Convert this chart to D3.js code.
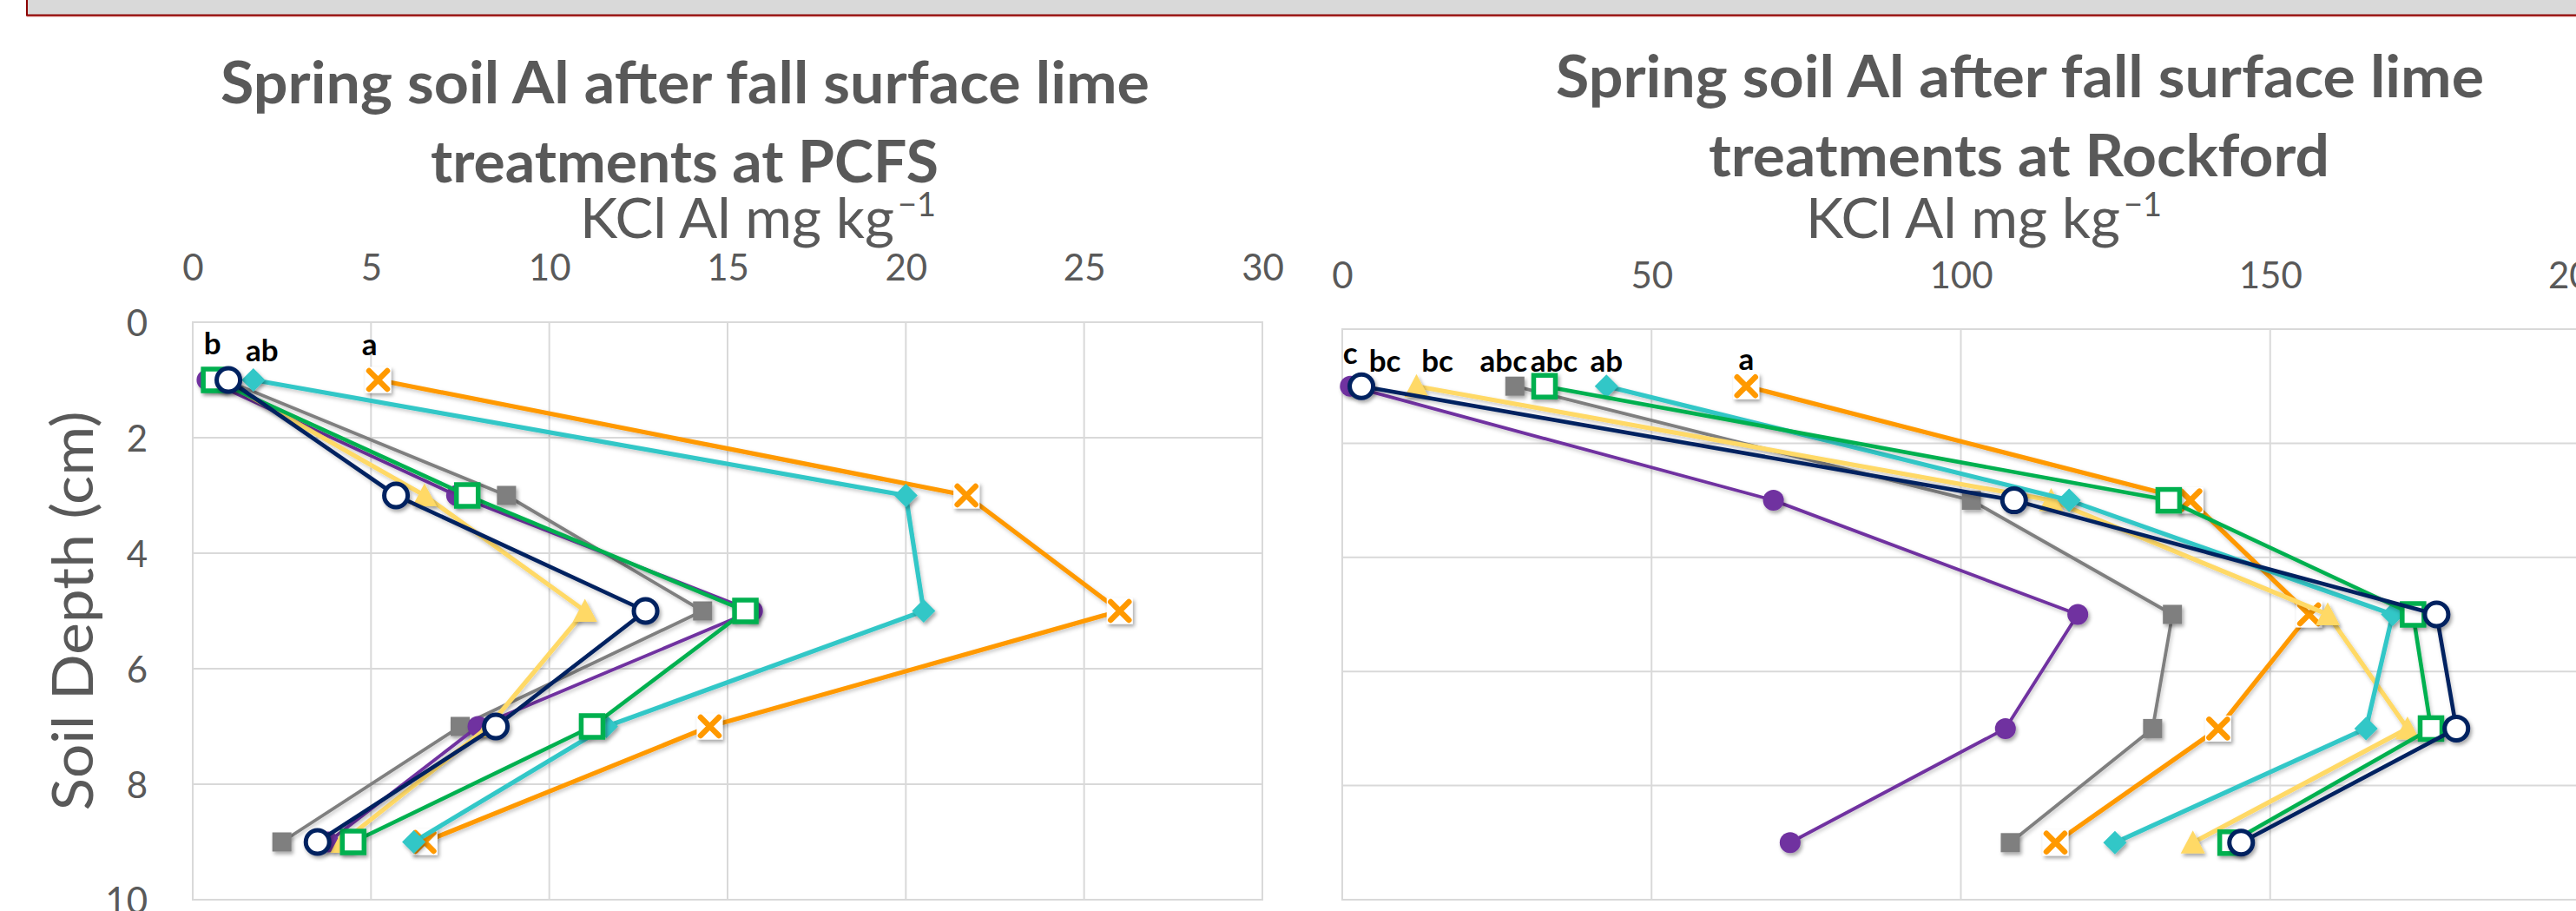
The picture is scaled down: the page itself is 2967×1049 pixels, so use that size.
<!DOCTYPE html>
<html>
<head>
<meta charset="utf-8">
<script src="https://cdn.jsdelivr.net/npm/d3@7"></script>
<style>
  html, body { margin: 0; padding: 0; background: #ffffff; }
  svg { display: block; }
</style>
</head>
<body>
<script>
// ---------------- DATA ----------------
const depths = [1, 3, 5, 7, 9];
const depthTicks = [0, 2, 4, 6, 8, 10];
const pcfsTicks = [0, 5, 10, 15, 20, 25, 30];
const rockTicks = [0, 50, 100, 150, 200];

const seriesOrder = ["gray", "purple", "orange", "yellow", "cyan", "green", "navy"];

// PCFS (KCl Al mg/kg) at depths 1,3,5,7,9 cm
const pcfsGray   = [0.9, 8.8, 14.3, 7.5, 2.5];
const pcfsPurple = [0.4, 7.4, 15.7, 8.0, 3.8];
const pcfsOrange = [5.2, 21.7, 26.0, 14.5, 6.5];
const pcfsYellow = [0.8, 6.5, 11.0, 8.3, 4.2];
const pcfsCyan   = [1.7, 20.0, 20.5, 11.6, 6.2];
const pcfsGreen  = [0.6, 7.7, 15.5, 11.2, 4.5];
const pcfsNavy   = [1.0, 5.7, 12.7, 8.5, 3.5];

// Rockford
const rockGray   = [27.9, 101.7, 134.2, 131.0, 108.0];
const rockPurple = [1.3, 69.7, 118.9, 107.2, 72.4];
const rockOrange = [65.3, 137.1, 156.3, 141.6, 115.3];
const rockYellow = [12.0, 114.6, 159.3, 172.2, 137.5];
const rockCyan   = [42.7, 117.5, 169.8, 165.5, 124.9];
const rockGreen  = [32.7, 133.6, 173.1, 176.0, 143.6];
const rockNavy   = [3.1, 108.6, 176.9, 180.1, 145.3];

// significance letters at the 1 cm depth
const pcfsLetterSeries = ["green", "cyan", "orange"];
const pcfsLetters      = ["b", "ab", "a"];
const rockLetterSeries = ["purple", "navy", "yellow", "gray", "green", "cyan", "orange"];
const rockLetters      = ["c", "bc", "bc", "abc", "abc", "ab", "a"];

const pcfsTitle = ["Spring soil Al after fall surface lime", "treatments at PCFS"];
const rockTitle = ["Spring soil Al after fall surface lime", "treatments at Rockford"];
const xTitle = "KCl Al mg kg";
const xTitleSup = "\u22121";
const yTitle = "Soil Depth (cm)";

// ---------------- STYLE / LAYOUT ----------------
const W = 2967, H = 1049;
const FONT = "Lato, 'Open Sans', sans-serif";
const style = {
  gray:   { color: "#7F7F7F", width: 3.8, marker: "square" },
  purple: { color: "#7030A0", width: 3.8, marker: "dot" },
  orange: { color: "#FF9900", width: 5.2, marker: "x" },
  yellow: { color: "#FFD966", width: 5.2, marker: "triangle" },
  cyan:   { color: "#33C7C7", width: 5.2, marker: "diamond" },
  green:  { color: "#00B050", width: 4.6, marker: "hsquare" },
  navy:   { color: "#002060", width: 4.6, marker: "hcircle" }
};
const textGray = "#595959";
const gridColor = "#D9D9D9";

const svg = d3.select("body").append("svg")
  .attr("width", W).attr("height", H)
  .attr("viewBox", `0 0 ${W} ${H}`);

const defs = svg.append("defs");
const f = defs.append("filter").attr("id", "sh")
  .attr("x", "-50%").attr("y", "-50%").attr("width", "200%").attr("height", "200%");
f.append("feDropShadow").attr("dx", 2).attr("dy", 3).attr("stdDeviation", 2.2)
  .attr("flood-color", "#000").attr("flood-opacity", 0.35);
const fl = defs.append("filter").attr("id", "shl")
  .attr("x", "-10%").attr("y", "-10%").attr("width", "120%").attr("height", "120%");
fl.append("feDropShadow").attr("dx", 1.5).attr("dy", 2.5).attr("stdDeviation", 2)
  .attr("flood-color", "#000").attr("flood-opacity", 0.22);

// header strip
svg.append("rect").attr("x", 31).attr("y", -4).attr("width", W).attr("height", 21.5)
  .attr("fill", "#D9D9D9").attr("stroke", "#8B0000").attr("stroke-width", 2);
svg.append("line").attr("x1", 31).attr("x2", W).attr("y1", 18.6).attr("y2", 18.6)
  .attr("stroke", "#C0504D").attr("stroke-width", 1.2);

function drawMarker(g, type, color, cx, cy) {
  const m = g.append("g").attr("transform", `translate(${cx},${cy})`).attr("filter", "url(#sh)");
  if (type === "dot") {
    m.append("circle").attr("r", 12).attr("fill", color);
  } else if (type === "square") {
    m.append("rect").attr("x", -11).attr("y", -11).attr("width", 22).attr("height", 22).attr("fill", color);
  } else if (type === "triangle") {
    m.append("path").attr("d", "M0,-14L14,12.5L-14,12.5Z").attr("fill", color);
  } else if (type === "diamond") {
    m.append("path").attr("d", "M0,-13.5L13.5,0L0,13.5L-13.5,0Z").attr("fill", color);
  } else if (type === "hsquare") {
    m.append("rect").attr("x", -12.5).attr("y", -12.5).attr("width", 25).attr("height", 25)
      .attr("fill", "#fff").attr("stroke", color).attr("stroke-width", 5.5);
  } else if (type === "x") {
    m.append("rect").attr("x", -15).attr("y", -15).attr("width", 30).attr("height", 30).attr("fill", "#fff");
    m.append("path").attr("d", "M-10.5,-10.5L10.5,10.5M10.5,-10.5L-10.5,10.5")
      .attr("stroke", color).attr("stroke-width", 6.5).attr("stroke-linecap", "round").attr("fill", "none");
  } else if (type === "hcircle") {
    m.append("circle").attr("r", 13.5).attr("fill", "#fff").attr("stroke", color).attr("stroke-width", 5);
  }
}

function panel(cfg) {
  const { x, y, ticks, data, titleLines, titleX, titleBase, titleLens,
          axTitleX, showY, letterSeries, letters, letterNudge } = cfg;
  const g = svg.append("g");
  const [x0, x1] = x.range();
  const [y0, y1] = y.range();

  // gridlines
  g.append("g").selectAll("line").data(ticks).join("line")
    .attr("x1", d => x(d)).attr("x2", d => x(d)).attr("y1", y0).attr("y2", y1)
    .attr("stroke", gridColor).attr("stroke-width", 2);
  g.append("g").selectAll("line").data(depthTicks).join("line")
    .attr("x1", x0).attr("x2", x1).attr("y1", d => y(d)).attr("y2", d => y(d))
    .attr("stroke", gridColor).attr("stroke-width", 2);

  // x axis labels (top)
  const ax = g.append("g").attr("transform", `translate(0,${y0})`)
    .call(d3.axisTop(x).tickValues(ticks).tickSize(0).tickPadding(y0 - cfg.xLabelBase));
  ax.select(".domain").remove();
  ax.selectAll("text").attr("font-family", FONT)
    .attr("font-size", 42).attr("fill", textGray).attr("dy", "0");

  if (showY) {
    const ay = g.append("g").attr("transform", `translate(${x0},0)`)
      .call(d3.axisLeft(y).tickValues(depthTicks).tickSize(0).tickPadding(52));
    ay.select(".domain").remove();
    ay.selectAll("text").attr("font-family", FONT)
      .attr("font-size", 42).attr("fill", textGray).attr("dy", "0.36em");
    svg.append("text")
      .attr("transform", `translate(107,${(y0 + y1) / 2}) rotate(-90)`)
      .attr("text-anchor", "middle")
      .attr("font-family", FONT).attr("font-size", 66)
      .attr("fill", textGray)
      .attr("textLength", 460).attr("lengthAdjust", "spacingAndGlyphs")
      .text(yTitle);
  }

  // titles
  titleLines.forEach((t, i) => {
    svg.append("text").attr("x", titleX[i]).attr("y", titleBase[i])
      .attr("font-family", FONT).attr("font-weight", 700)
      .attr("font-size", 66).attr("fill", textGray)
      .attr("textLength", titleLens[i]).attr("lengthAdjust", "spacingAndGlyphs")
      .text(t);
  });
  // axis title with superscript (single text element)
  const atBase = 274;
  const at = svg.append("text").attr("x", axTitleX).attr("y", atBase)
    .attr("font-family", FONT).attr("fill", textGray);
  at.append("tspan").attr("font-size", 64)
    .attr("textLength", 362).attr("lengthAdjust", "spacingAndGlyphs").text(xTitle);
  at.append("tspan").attr("font-size", 38).attr("dx", 4).attr("dy", -25).text(xTitleSup);

  // plot border
  g.append("rect").attr("x", x0).attr("y", y0).attr("width", x1 - x0).attr("height", y1 - y0)
    .attr("fill", "none").attr("stroke", gridColor).attr("stroke-width", 2);

  // series
  const line = d3.line().x(d => x(d.v)).y(d => y(d.d));
  seriesOrder.forEach(key => {
    const st = style[key];
    const pts = depths.map((d, i) => ({ d, v: data[key][i] }));
    const sg = g.append("g");
    sg.append("path").datum(pts).attr("d", line).attr("fill", "none")
      .attr("filter", "url(#shl)")
      .attr("stroke", st.color).attr("stroke-width", st.width).attr("stroke-linejoin", "round");
    pts.forEach(p => drawMarker(sg, st.marker, st.color, x(p.v), y(p.d)));
  });

  // letters
  letters.forEach((t, i) => {
    const k = letterSeries[i];
    const nx = letterNudge[i][0], ny = letterNudge[i][1];
    g.append("text").attr("x", x(data[k][0]) + nx).attr("y", y(depths[0]) + ny)
      .attr("text-anchor", "middle").attr("font-family", FONT)
      .attr("font-weight", 700).attr("font-size", 35).attr("fill", "#000").text(t);
  });
}

panel({
  x: d3.scaleLinear().domain([0, 30]).range([222, 1454]),
  y: d3.scaleLinear().domain([0, 10]).range([371, 1036]),
  ticks: pcfsTicks,
  xLabelBase: 323,
  data: { gray: pcfsGray, purple: pcfsPurple, orange: pcfsOrange, yellow: pcfsYellow,
          cyan: pcfsCyan, green: pcfsGreen, navy: pcfsNavy },
  titleLines: pcfsTitle, titleX: [254, 496], titleBase: [119, 210], titleLens: [1070, 585],
  axTitleX: 668, showY: true,
  letterSeries: pcfsLetterSeries, letters: pcfsLetters,
  letterNudge: [[-2, -30], [10, -22], [-10, -29]]
});

panel({
  x: d3.scaleLinear().domain([0, 200]).range([1546, 2971]),
  y: d3.scaleLinear().domain([0, 10]).range([379, 1036]),
  ticks: rockTicks,
  xLabelBase: 332,
  data: { gray: rockGray, purple: rockPurple, orange: rockOrange, yellow: rockYellow,
          cyan: rockCyan, green: rockGreen, navy: rockNavy },
  titleLines: rockTitle, titleX: [1792, 1968], titleBase: [112, 203], titleLens: [1069, 715],
  axTitleX: 2080, showY: false,
  letterSeries: rockLetterSeries, letters: rockLetters,
  letterNudge: [[0, -26], [27, -17], [24, -17], [-13, -17], [11, -17], [0, -17], [0, -19]]
});
</script>
</body>
</html>
